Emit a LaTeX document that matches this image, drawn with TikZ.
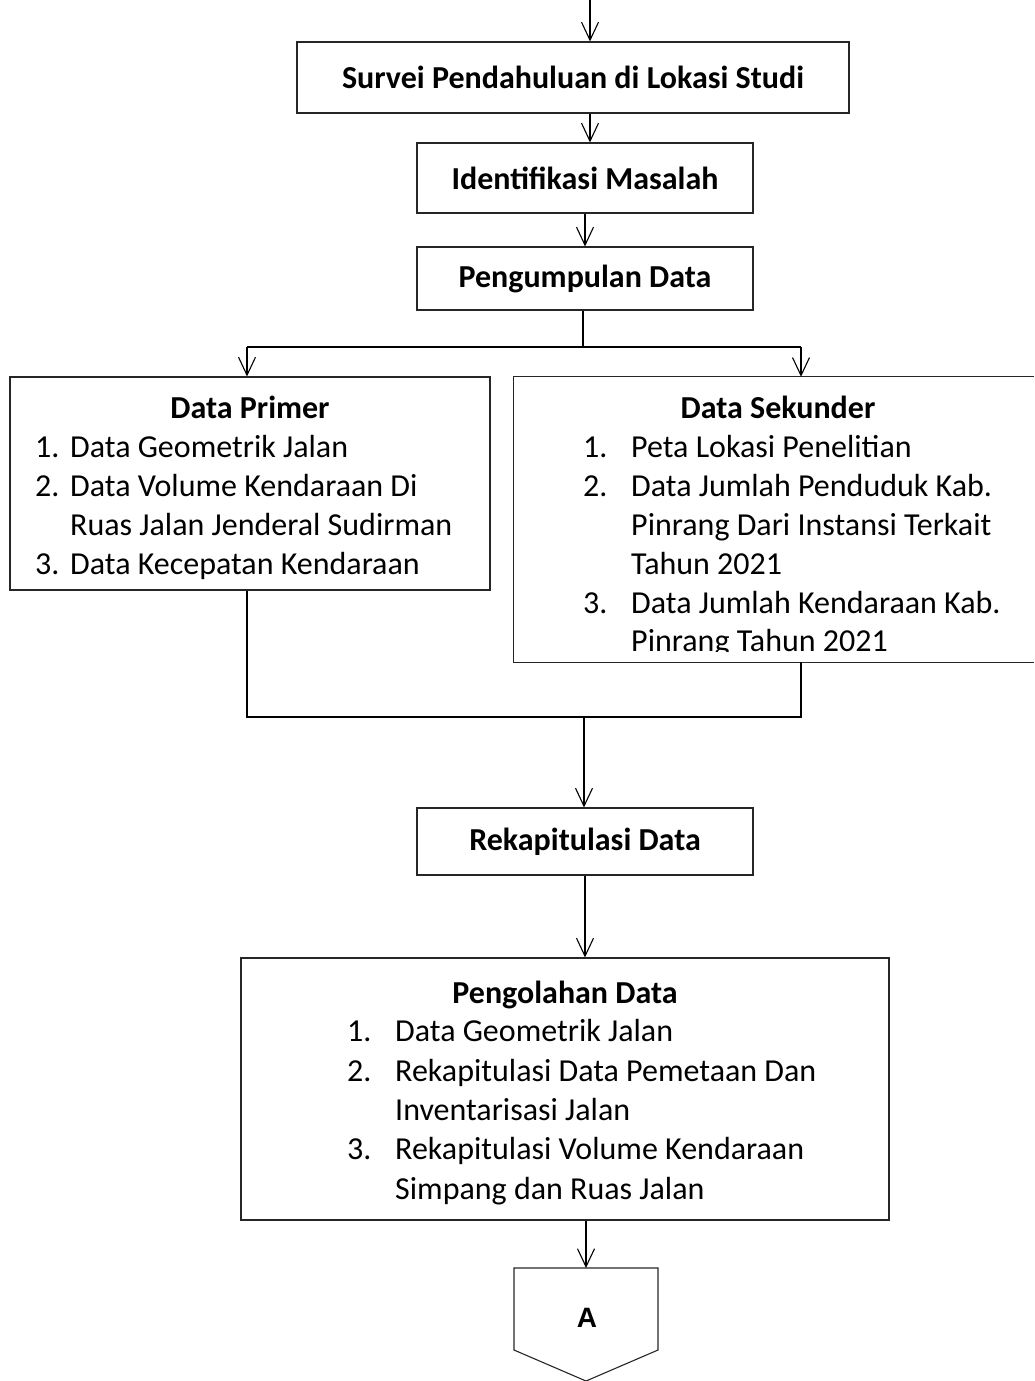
\documentclass[tikz,border=0pt]{standalone}
\usepackage{fontspec}
\setmainfont{Carlito}
\newfontfamily\arialfont{Liberation Sans}
\usetikzlibrary{arrows.meta}
\begin{document}
\begin{tikzpicture}[x=1pt,y=-1pt,
 box/.style={draw=black!85, line width=1.1pt, inner sep=0pt, font=\fontsize{32}{39}\selectfont\bfseries},
 flow/.style={draw=black, line width=1.1pt, -{Straight Barb[length=18pt,width=17pt,line width=1.1pt]}},
 conn/.style={draw=black, line width=1.1pt},
 txt/.style={font=\fontsize{32}{39}\selectfont, anchor=base west, inner sep=0pt},
 head/.style={font=\fontsize{32}{39}\selectfont\bfseries, anchor=base, inner sep=0pt},
]
\useasboundingbox (0,0) rectangle (1034,1381);

% boxes
\node[box, minimum width=552pt, minimum height=71pt] (survei) at (573,77.5) {Survei Pendahuluan di Lokasi Studi};
\node[box, minimum width=336pt, minimum height=70pt] (ident) at (585,178) {Identifikasi Masalah};
\node[box, minimum width=336pt, minimum height=63pt] (kumpul) at (585,278.5) {Pengumpulan Data};
\node[box, minimum width=480pt, minimum height=213pt] (primer) at (250,483.5) {};
\node[inner sep=0pt, minimum width=520pt, minimum height=285pt] (sekunder) at (774,519.5) {};
\draw[conn, draw=black!85] (sekunder.north east) -- (sekunder.north west) -- (sekunder.south west) -- (sekunder.south east);
\node[box, minimum width=336pt, minimum height=67pt] (rekap) at (585,841.5) {Rekapitulasi Data};
\node[box, minimum width=648pt, minimum height=262pt] (olah) at (565,1089) {};

% terminal A
\coordinate (Atop) at (586,1268);
\draw[conn, draw=black!85] (514,1268) -- (658,1268) -- (658,1350) -- (586,1381) -- (514,1350) -- cycle;
\node[font=\arialfont\bfseries\fontsize{28}{32}\selectfont, inner sep=0pt] (alabel) at (587,1318) {A};

% Data Primer text
\node[head] (ph) at (250,418) {Data Primer};
\node[txt] (p1n) at (35,457) {1.};
\node[txt] (p1) at (70,457) {Data Geometrik Jalan};
\node[txt] (p2n) at (35,496) {2.};
\node[txt] (p2) at (70,496) {Data Volume Kendaraan Di};
\node[txt] (p2b) at (70,535) {Ruas Jalan Jenderal Sudirman};
\node[txt] (p3n) at (35,574) {3.};
\node[txt] (p3) at (70,574) {Data Kecepatan Kendaraan};

% Data Sekunder text
\node[head] (sh) at (778,418) {Data Sekunder};
\node[txt] (s1n) at (583,457) {1.};
\node[txt] (s1) at (631,457) {Peta Lokasi Penelitian};
\node[txt] (s2n) at (583,496) {2.};
\node[txt] (s2) at (631,496) {Data Jumlah Penduduk Kab.};
\node[txt] (s2b) at (631,535) {Pinrang Dari Instansi Terkait};
\node[txt] (s2c) at (631,574) {Tahun 2021};
\node[txt] (s3n) at (583,613) {3.};
\node[txt] (s3) at (631,613) {Data Jumlah Kendaraan Kab.};
\begin{scope}
\clip (514,620) rectangle (1034,651);
\node[txt] (s3b) at (631,651) {Pinrang Tahun 2021};
\end{scope}

% Pengolahan Data text
\node[head] (oh) at (565,1003) {Pengolahan Data};
\node[txt] (o1n) at (347,1041) {1.};
\node[txt] (o1) at (395,1041) {Data Geometrik Jalan};
\node[txt] (o2n) at (347,1081) {2.};
\node[txt] (o2) at (395,1081) {Rekapitulasi Data Pemetaan Dan};
\node[txt] (o2b) at (395,1120) {Inventarisasi Jalan};
\node[txt] (o3n) at (347,1159) {3.};
\node[txt] (o3) at (395,1159) {Rekapitulasi Volume Kendaraan};
\node[txt] (o3b) at (395,1199) {Simpang dan Ruas Jalan};

% connectors
\coordinate (top) at (590,0);
\draw[flow] (top) -- (survei.north -| top);
\draw[flow] (survei.south -| top) -- (ident.north -| top);
\draw[flow] (ident) -- (kumpul);
\coordinate (split) at (583,347);
\coordinate (bl) at (247,347);
\coordinate (br) at (801,347);
\draw[conn] (kumpul.south -| split) -- (split);
\draw[conn] (bl) -- (br);
\draw[flow] (bl) -- (bl |- primer.north);
\draw[flow] (br) -- (br |- sekunder.north);
\coordinate (ml) at (247,717);
\coordinate (mr) at (801,717);
\coordinate (mm) at (584,717);
\draw[conn] (ml |- primer.south) -- (ml) -- (mr) -- (mr |- sekunder.south);
\draw[flow] (mm) -- (mm |- rekap.north);
\draw[flow] (rekap.south) -- (rekap.south |- olah.north);
\draw[flow] (olah.south -| Atop) -- (Atop);
\end{tikzpicture}
\end{document}
